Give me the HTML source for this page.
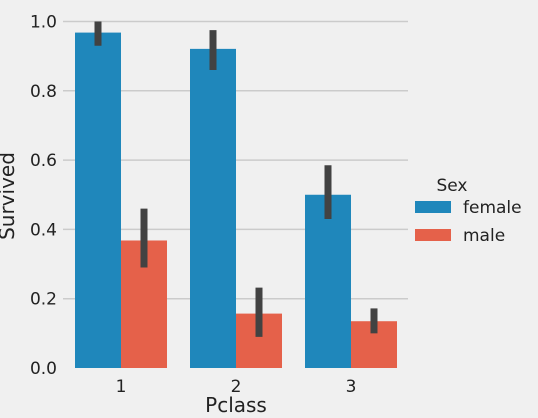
<!DOCTYPE html>
<html><head><meta charset="utf-8"><style>
body{margin:0;background:#f0f0f0;}
svg{display:block;font-family:"DejaVu Sans","Liberation Sans",sans-serif;}
</style></head><body>
<svg id="chart" width="538" height="418" viewBox="0 0 538 418">
<rect x="0" y="0" width="538" height="418" fill="#f0f0f0"/>
<g id="grid"></g>
<g id="bars"></g>
<g id="axes"></g>
<text x="14" y="196" font-size="20" fill="#222" text-anchor="middle" transform="rotate(-90 14 196)">Survived</text>
<text x="236" y="412" font-size="20" fill="#222" text-anchor="middle">Pclass</text>
<g>
<text x="452" y="191" font-size="17" fill="#222" text-anchor="middle">Sex</text>
<rect x="415" y="201" width="36" height="12" fill="#1f87bb"/>
<text x="463" y="213" font-size="17" fill="#222">female</text>
<rect x="415" y="229" width="36" height="12" fill="#e5614a"/>
<text x="463" y="241" font-size="17" fill="#222">male</text>
</g>
</svg>
<script>
const categories = ["1","2","3"];
const femaleVals = [0.968, 0.921, 0.500];
const maleVals = [0.368, 0.157, 0.135];
const femaleLo = [0.93, 0.86, 0.43];
const femaleHi = [1.0, 0.975, 0.585];
const maleLo = [0.29, 0.09, 0.10];
const maleHi = [0.46, 0.232, 0.172];
const yTicks = [0.0, 0.2, 0.4, 0.6, 0.8, 1.0];

const NS = "http://www.w3.org/2000/svg";
const y0 = 368, yPer = 346.5, left = 63, right = 408;
const y = v => y0 - v * yPer;
const cx = i => 121 + i * 115;
const bw = 46;
function mk(tag, attrs, parent){const e=document.createElementNS(NS,tag);for(const k in attrs)e.setAttribute(k,attrs[k]);parent.appendChild(e);return e;}
const grid=document.getElementById('grid'), bars=document.getElementById('bars'), axes=document.getElementById('axes');
yTicks.forEach(t=>{
  if(t>0){const l=mk('line',{x1:left,x2:right,y1:y(t),y2:y(t),stroke:'#cbcbcb','stroke-width':1.5},grid);
  
  }
  const tx=mk('text',{x:57,y:y(t)+6,'font-size':17,fill:'#222','text-anchor':'end'},axes);
  tx.textContent=t.toFixed(1);
  
  
});
categories.forEach((c,i)=>{
  const series=[[femaleVals,femaleLo,femaleHi,'#1f87bb','female',-1],[maleVals,maleLo,maleHi,'#e5614a','male',0]];
  series.forEach(([vals,lo,hi,col,name,off])=>{
    const x=cx(i)+off*bw;
    const r=mk('rect',{x:x,y:y(vals[i]),width:bw,height:y0-y(vals[i]),fill:col},bars);
    
    
    const e=mk('line',{x1:x+bw/2,x2:x+bw/2,y1:y(lo[i]),y2:y(hi[i]),stroke:'#424242','stroke-width':7},bars);
    
    
  });
  const t=mk('text',{x:cx(i),y:392,'font-size':17,fill:'#222','text-anchor':'middle'},axes);
  t.textContent=c;
  
  
});
</script>
</body></html>
